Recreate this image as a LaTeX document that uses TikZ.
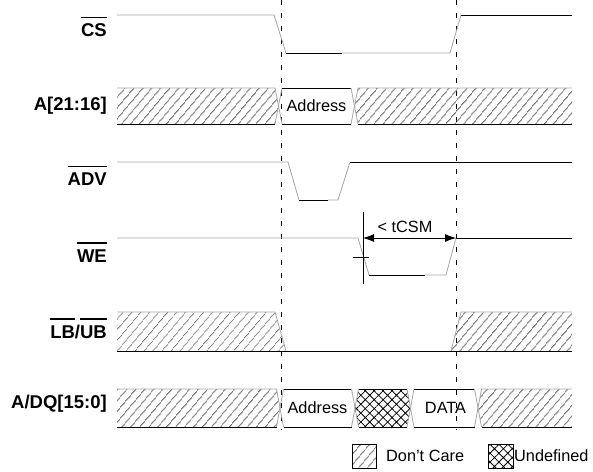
\documentclass[tikz,border=0pt]{standalone}
\usepackage{fontspec}
\setmainfont{Liberation Sans}
\usetikzlibrary{patterns.meta,arrows.meta}
\newcommand\ovl[1]{\setbox0=\hbox{#1}\rlap{\raisebox{18.3pt}{\rule{\wd0}{1.6pt}}}\box0}
\tikzset{
  gl/.style={draw=gray!70, line width=0.8pt},
  bl/.style={draw=black, line width=0.8pt},
  dc/.style={pattern={Lines[angle=50,distance=6.5pt,line width=0.75pt]}, pattern color=black!85},
  ud/.style={pattern={Hatch[angle=45,distance=6.3pt,line width=0.8pt]}, pattern color=black},
  lbl/.style={anchor=base east, inner sep=0, font=\fontsize{18.5}{20}\selectfont\bfseries},
  txt/.style={inner sep=0, font=\fontsize{16.3}{18}\selectfont},
  guide/.style={draw=black, line width=0.8pt, dash pattern=on 5pt off 8pt}
}
\begin{document}
\begin{tikzpicture}[x=1pt,y=-1pt]
\useasboundingbox (0,0) rectangle (593,471);
% guide lines
\draw[guide] (281,0) -- (281,430);
\draw[guide] (456,0) -- (456,430);

% labels
\node[lbl] (lcs) at (107,36.7) {\ovl{CS}};
\node[lbl] (la) at (107,110) {A[21:16]};
\node[lbl] (ladv) at (107,185.7) {\ovl{ADV}};
\node[lbl] (lwe) at (107,262) {\ovl{WE}};
\node[lbl] (llb) at (107,338) {\ovl{LB}/\ovl{UB}};
\node[lbl] (ldq) at (107,408.3) {A/DQ[15:0]};

% CS
\draw[gl] (117,15) -- (274,15) -- (286,53);
\draw[bl] (286,53) -- (342,53);
\draw[gl] (342,53) -- (450,53) -- (461,15);
\draw[bl] (461,15) -- (572,15);

% A[21:16]
\fill[dc] (117,88) -- (275,88) -- (278.5,106) -- (275,124) -- (117,124) -- cycle;
\draw[gl] (117,88) -- (275,88) -- (278.5,106) -- (275,124);
\draw[bl] (117,124) -- (275,124);
\draw[gl] (282,88) -- (278.5,106) -- (282,124);
\draw[bl] (282,88) -- (351,88);
\draw[bl] (282,124) -- (351,124);
\draw[gl] (351,88) -- (354.5,106) -- (351,124);
\node[txt] (aaddr) at (316.5,106) {Address};
\fill[dc] (358,88) -- (572,88) -- (572,124) -- (358,124) -- (354.5,106) -- cycle;
\draw[gl] (572,88) -- (358,88) -- (354.5,106) -- (358,124);
\draw[bl] (358,124) -- (572,124);

% ADV
\draw[gl] (117,162) -- (288,162) -- (299,200);
\draw[bl] (299,200) -- (328,200);
\draw[gl] (328,200) -- (338,200) -- (350,162);
\draw[bl] (350,162) -- (572,162);

% WE
\draw[gl] (117,238) -- (358,238) -- (369,275);
\draw[bl] (369,275) -- (425,275);
\draw[gl] (425,275) -- (446,275) -- (456,238);
\draw[bl] (456,238) -- (572,238);
\coordinate (m1) at (363,212);
\coordinate (m2) at (363,284);
\coordinate (t1) at (353,257);
\coordinate (t2) at (369,257);
\coordinate (a1) at (363,238);
\coordinate (a2) at (456,238);
\draw[bl] (m1) -- (m2);
\draw[bl] (t1) -- (t2);
\draw[bl, {Latex[length=11pt,width=8pt]}-{Latex[length=11pt,width=8pt]}] (a1) -- (a2);
\node[txt] (tcsm) at (405,227) {< tCSM};

% LB/UB
\fill[dc] (117,312) -- (275,312) -- (286,351) -- (117,351) -- cycle;
\draw[gl] (117,312) -- (275,312) -- (286,351);
\fill[dc] (461,312) -- (572,312) -- (572,351) -- (451,351) -- cycle;
\draw[gl] (572,312) -- (461,312) -- (451,351);
\draw[bl] (117,351) -- (572,351);

% A/DQ[15:0]
\fill[dc] (117,389) -- (276.5,389) -- (280,408) -- (276.5,427) -- (117,427) -- cycle;
\draw[gl] (117,389) -- (276.5,389) -- (280,408) -- (276.5,427);
\draw[bl] (117,427) -- (276.5,427);
% Address
\draw[gl] (283.5,389) -- (280,408) -- (283.5,427);
\draw[bl] (283.5,389) -- (351.5,389);
\draw[bl] (283.5,427) -- (351.5,427);
\draw[gl] (351.5,389) -- (355,408) -- (351.5,427);
\node[txt] (daddr) at (317.5,408) {Address};
% Undefined
\fill[ud] (358.5,389) -- (407,389) -- (410.5,408) -- (407,427) -- (358.5,427) -- (355,408) -- cycle;
\draw[gl] (358.5,389) -- (355,408) -- (358.5,427);
\draw[gl] (407,389) -- (410.5,408) -- (407,427);
\draw[bl] (358.5,389) -- (407,389);
\draw[bl] (358.5,427) -- (407,427);
% DATA
\draw[gl] (414,389) -- (410.5,408) -- (414,427);
\draw[bl] (414,389) -- (474.5,389);
\draw[bl] (414,427) -- (474.5,427);
\draw[gl] (474.5,389) -- (478,408) -- (474.5,427);
\node[txt] (ddata) at (445.5,408) {DATA};
% trailing don't care
\fill[dc] (481.5,389) -- (572,389) -- (572,427) -- (481.5,427) -- (478,408) -- cycle;
\draw[gl] (572,389) -- (481.5,389) -- (478,408) -- (481.5,427);
\draw[bl] (481.5,427) -- (572,427);

% legend
\draw[dc] (352,444) rectangle (376,468);
\draw[bl, line width=0.6pt] (352,444) rectangle (376,468);
\node[txt, anchor=west] (ldc) at (386,456) {Don’t Care};
\draw[ud] (488,444) rectangle (513,468);
\draw[bl, line width=0.6pt] (488,444) rectangle (513,468);
\node[txt, anchor=west] (lud) at (514,456) {Undefined};
\end{tikzpicture}
\end{document}
